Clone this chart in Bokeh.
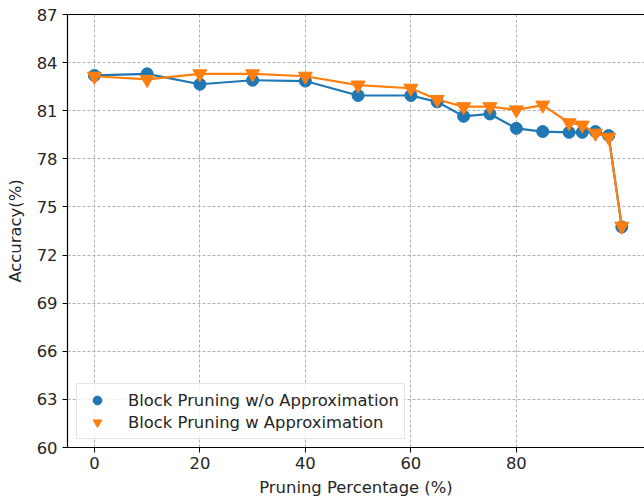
from bokeh.plotting import figure
from bokeh.models import Range1d, FixedTicker, LinearAxis, Legend, LegendItem
from bokeh.embed import file_html
from bokeh.resources import INLINE

# Data
pruning = [0, 10, 20, 30, 40, 50, 60, 65, 70, 75, 80, 85, 90, 92.5, 95, 97.5, 100]
acc_wo = [83.2, 83.3, 82.65, 82.9, 82.85, 81.95, 81.95, 81.55, 80.65, 80.8, 79.9,
          79.7, 79.65, 79.65, 79.7, 79.45, 73.75]
acc_w = [83.15, 82.95, 83.3, 83.3, 83.15, 82.6, 82.4, 81.7, 81.25, 81.25, 81.05,
         81.35, 80.25, 80.1, 79.6, 79.35, 73.8]
x_ticks = [0, 20, 40, 60, 80]
y_ticks = [60, 63, 66, 69, 72, 75, 78, 81, 84, 87]
label_wo = "Block Pruning w/o Approximation"
label_w = "Block Pruning w Approximation"

BLUE = "#1f77b4"
ORANGE = "#ff7f0e"
FONT = "DejaVu Sans"
FS = "16.4px"

p = figure(width=644, height=499, output_backend="svg", toolbar_location=None,
           x_range=Range1d(-5.1, 104.3), y_range=Range1d(60, 87),
           min_border_left=67, min_border_top=14, min_border_bottom=51,
           min_border_right=0, x_axis_location="below", y_axis_location="left")
p.outline_line_color = None
p.background_fill_color = "white"
p.border_fill_color = "white"

# Axes
for ax in (p.xaxis[0], p.yaxis[0]):
    ax.axis_line_color = "black"
    ax.axis_line_width = 1.2
    ax.major_tick_line_color = "black"
    ax.major_tick_out = 5
    ax.major_tick_in = 0
    ax.minor_tick_line_color = None
    ax.major_label_text_font = FONT
    ax.major_label_text_font_size = FS
    ax.major_label_text_color = "#262626"
    ax.axis_label_text_font = FONT
    ax.axis_label_text_font_size = FS
    ax.axis_label_text_font_style = "normal"
    ax.axis_label_text_color = "#262626"

p.xaxis[0].major_label_standoff = 4
p.xaxis[0].axis_label_standoff = 6
p.yaxis[0].major_label_standoff = 5
p.yaxis[0].axis_label_standoff = 9

p.xaxis[0].ticker = FixedTicker(ticks=x_ticks)
p.yaxis[0].ticker = FixedTicker(ticks=y_ticks)
p.xaxis[0].axis_label = "Pruning Percentage (%)"
p.yaxis[0].axis_label = "Accuracy(%)"

top = LinearAxis(ticker=FixedTicker(ticks=[]), major_label_text_font_size="0px",
                 major_tick_out=0, major_tick_in=0, minor_tick_out=0, minor_tick_in=0,
                 major_label_standoff=0, axis_line_color="black", axis_line_width=1.2)
p.add_layout(top, "above")

# Grid
p.xgrid[0].ticker = FixedTicker(ticks=x_ticks)
p.ygrid[0].ticker = FixedTicker(ticks=y_ticks)
for g in (p.xgrid[0], p.ygrid[0]):
    g.grid_line_color = "#b0b0b0"
    g.grid_line_dash = "3 2"
    g.grid_line_width = 1

# Series
p.line(pruning, acc_wo, line_color=BLUE, line_width=2.2)
r1 = p.scatter(pruning, acc_wo, marker="circle", size=12, fill_color=BLUE, line_color=BLUE)
p.line(pruning, acc_w, line_color=ORANGE, line_width=2.2)
r2 = p.scatter(pruning, acc_w, marker="inverted_triangle", size=14, fill_color=ORANGE,
               line_color=ORANGE)

legend = Legend(items=[LegendItem(label=label_wo, renderers=[r1]),
                       LegendItem(label=label_w, renderers=[r2])],
                location=(9, 8))
legend.label_text_font = FONT
legend.label_text_font_size = FS
legend.label_text_color = "#262626"
legend.padding = 5
legend.margin = 0
legend.spacing = 0
legend.glyph_width = 30
legend.glyph_height = 22
legend.label_height = 22
legend.label_standoff = 16
legend.border_line_color = "#cccccc"
legend.border_line_width = 1
legend.background_fill_alpha = 0.8
p.add_layout(legend, "center")

open("out.html", "w").write(file_html(p, INLINE))
